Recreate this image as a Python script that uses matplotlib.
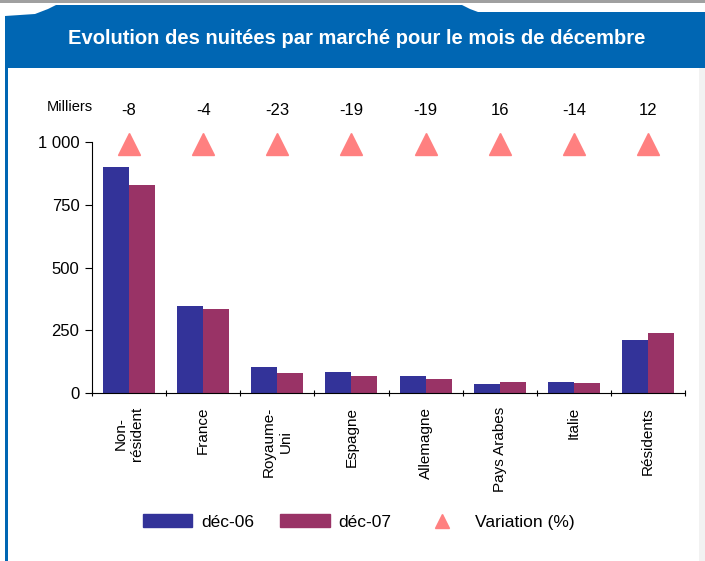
import matplotlib
matplotlib.use("Agg")
import matplotlib.pyplot as plt
from matplotlib.patches import Polygon, Rectangle, Patch
from matplotlib.lines import Line2D
import numpy as np

plt.rcParams['font.family'] = ['Liberation Sans', 'DejaVu Sans']

categories = ["Non-\nrésident", "France", "Royaume-\nUni", "Espagne", "Allemagne",
              "Pays Arabes", "Italie", "Résidents"]
dec06 = [900, 347, 104, 84, 68, 36, 44, 212]
dec07 = [830, 335, 80, 68, 56, 43, 38, 238]
variation = [-8, -4, -23, -19, -19, 16, -14, 12]
yticks = [0, 250, 500, 750, 1000]
yticklabels = ["0", "250", "500", "750", "1 000"]

W, H = 705, 561
fig = plt.figure(figsize=(W / 100, H / 100), dpi=100)

def fy(ypx):
    return 1 - ypx / H

def fx(xpx):
    return xpx / W

# header decoration
fig.patches.append(Rectangle((0, fy(3)), 1, 3 / H, transform=fig.transFigure,
                             facecolor="#a0a0a0", edgecolor="none"))
blue = "#0066B3"
pts = [(5, 68), (5, 16), (35, 14), (48, 9), (56, 5), (462, 5), (470, 9), (478, 12),
       (705, 12), (705, 68)]
fig.patches.append(Polygon([(fx(x), fy(y)) for x, y in pts], closed=True,
                           transform=fig.transFigure, facecolor=blue, edgecolor="none"))
fig.patches.append(Rectangle((fx(5), 0), 3 / W, fy(68), transform=fig.transFigure,
                             facecolor=blue, edgecolor="none"))
fig.patches.append(Rectangle((fx(699), 0), 6 / W, fy(68), transform=fig.transFigure,
                             facecolor="#f2f2f2", edgecolor="none"))
fig.text(fx(357), fy(39), "Evolution des nuitées par marché pour le mois de décembre",
         color="white", fontsize=14.5, fontweight="bold", ha="center", va="center")

ax = fig.add_axes([fx(92), fy(393), fx(685) - fx(92), (393 - 142) / H])
x = np.arange(len(categories))
bw = 0.35
ax.bar(x - bw / 2, dec06, width=bw, color="#333399", label="déc-06")
ax.bar(x + bw / 2, dec07, width=bw, color="#993366", label="déc-07")
ax.plot(x, [993] * len(x), linestyle="none", marker="^", markersize=16,
        color="#FF8080", clip_on=False, zorder=5)
for xi, v in zip(x, variation):
    ax.text(xi, 1127, str(v), ha="center", va="center", fontsize=12)
ax.set_xlim(-0.5, len(categories) - 0.5)
ax.set_ylim(0, 1000)
ax.set_yticks(yticks)
ax.set_yticklabels(yticklabels, fontsize=12)
ax.set_xticks(np.arange(len(categories) + 1) - 0.5)
ax.set_xticklabels([])
ax.set_xticks(x, minor=True)
ax.set_xticklabels(categories, minor=True, rotation=90, fontsize=11,
                   ha="center", va="top", multialignment="center")
ax.tick_params(axis="x", which="minor", length=0, pad=10)
ax.tick_params(axis="x", which="major", length=5, direction="inout")
ax.tick_params(axis="y", length=5, direction="out", pad=4)
for s in ["top", "right"]:
    ax.spines[s].set_visible(False)
ax.text(-0.077, 1138 / 1000, "Milliers", transform=ax.transAxes, fontsize=10.5,
        ha="left", va="center")

handles = [Patch(color="#333399", label="déc-06"), Patch(color="#993366", label="déc-07"),
           Line2D([], [], linestyle="none", marker="^", markersize=10, color="#FF8080",
                  label="Variation (%)")]
fig.legend(handles=handles, loc="center", bbox_to_anchor=(fx(359), fy(522)), ncol=3,
           frameon=False, fontsize=12.5, handlelength=2.85, handleheight=0.75,
           columnspacing=1.5, handletextpad=0.5)

fig.savefig("out.png", dpi=100)
